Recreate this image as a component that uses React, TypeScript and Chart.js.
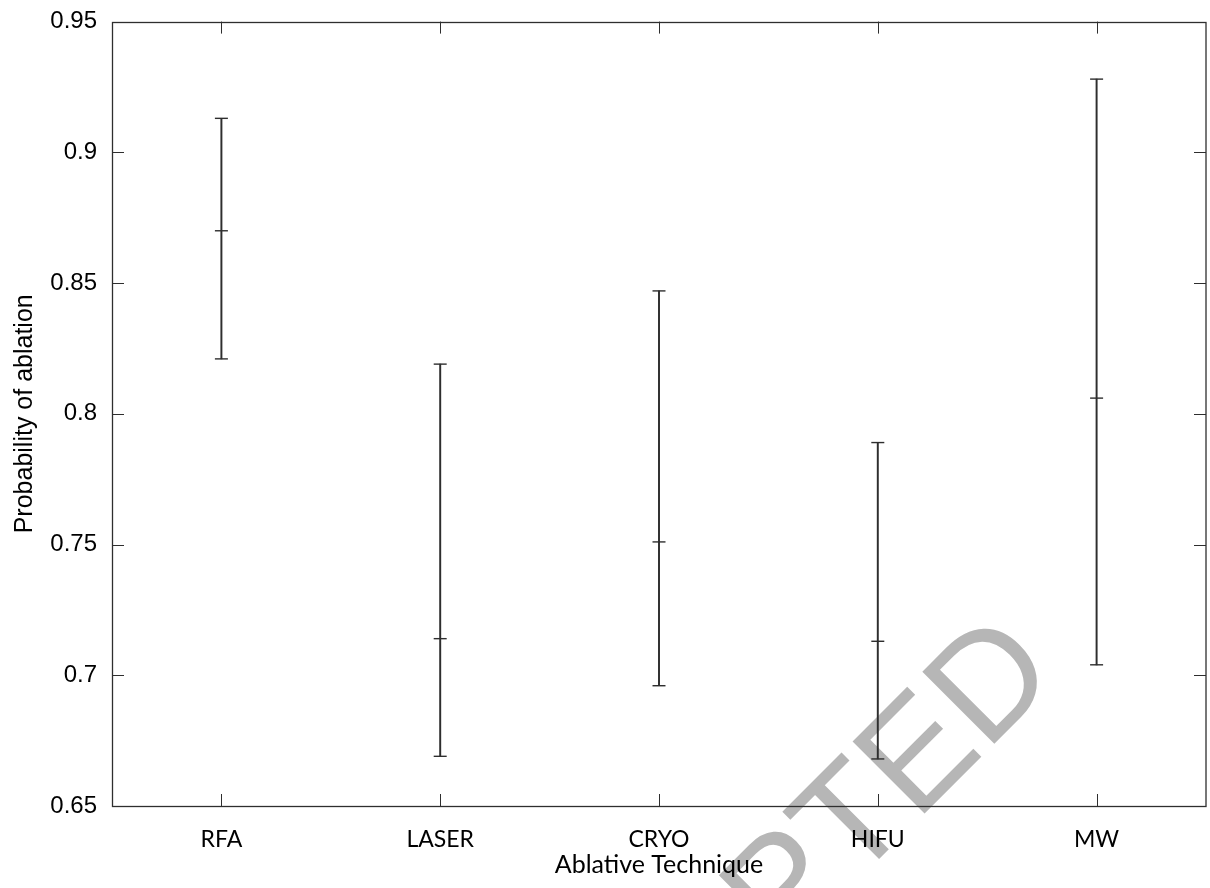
import React, { useEffect, useRef } from 'react';
import { Chart, registerables } from 'chart.js';

Chart.register(...registerables);

const categories = ['RFA', 'LASER', 'CRYO', 'HIFU', 'MW'];
const meanValues = [0.870, 0.714, 0.751, 0.713, 0.806];
const lowerValues = [0.821, 0.669, 0.696, 0.668, 0.704];
const upperValues = [0.913, 0.819, 0.847, 0.789, 0.928];
const yTickValues = [0.65, 0.7, 0.75, 0.8, 0.85, 0.9, 0.95];
const yTickLabels = ['0.65', '0.7', '0.75', '0.8', '0.85', '0.9', '0.95'];
const yMin = 0.65;
const yMax = 0.95;
const yStep = 0.05;
const xTitle = 'Ablative Technique';
const yTitle = 'Probability of ablation';
const watermarkText = 'ACCEPTED';

const LINE = '#2e2e2e';
const TEXT = '#000000';

const watermarkPlugin = {
  id: 'watermark',
  beforeDraw(chart: any) {
    const ctx = chart.ctx;
    ctx.save();
    ctx.font = '148px "Liberation Sans", Arial, sans-serif';
    ctx.fillStyle = 'rgb(182,182,182)';
    ctx.textBaseline = 'alphabetic';
    ctx.textAlign = 'left';
    ctx.translate(916, 822);
    ctx.rotate(-Math.PI / 4);
    const pre = ctx.measureText('ACCEPT').width;
    ctx.fillText(watermarkText, -pre, 0);
    ctx.restore();
  },
};

const frameTicksPlugin = {
  id: 'frameTicks',
  afterDraw(chart: any) {
    const { ctx, chartArea } = chart;
    const { left, right, top, bottom } = chartArea;
    const xs = chart.scales.x;
    const ys = chart.scales.y;
    const len = 12;
    ctx.save();
    ctx.strokeStyle = LINE;
    ctx.lineWidth = 1;
    ctx.beginPath();
    ys.ticks.forEach((t: any) => {
      const y = Math.round(ys.getPixelForValue(t.value)) + 0.5;
      ctx.moveTo(left, y);
      ctx.lineTo(left + len, y);
      ctx.moveTo(right, y);
      ctx.lineTo(right - len, y);
    });
    categories.forEach((_, i) => {
      const x = Math.round(xs.getPixelForTick(i)) + 0.5;
      ctx.moveTo(x, bottom);
      ctx.lineTo(x, bottom - len);
      ctx.moveTo(x, top);
      ctx.lineTo(x, top + len);
    });
    ctx.stroke();
    ctx.lineWidth = 1.3;
    ctx.strokeRect(Math.round(left) + 0.5, Math.round(top) + 0.5, Math.round(right - left) - 0.5, Math.round(bottom - top));
    ctx.restore();
  },
};

export default function App() {
  const ref = useRef<HTMLCanvasElement | null>(null);

  useEffect(() => {
    if (!ref.current) return;
    const capDataset = (values: number[]) => ({
      type: 'line' as const,
      data: values,
      showLine: false,
      pointStyle: 'line',
      pointRadius: 6.5,
      pointHoverRadius: 6.5,
      borderColor: LINE,
      backgroundColor: LINE,
      borderWidth: 1.4,
      clip: false,
    });
    const chart = new Chart(ref.current, {
      type: 'bar',
      data: {
        labels: categories,
        datasets: [
          {
            type: 'bar',
            data: categories.map((_, i) => [lowerValues[i], upperValues[i]]),
            backgroundColor: LINE,
            borderWidth: 0,
            barThickness: 1.3,
          } as any,
          capDataset(lowerValues) as any,
          capDataset(meanValues) as any,
          capDataset(upperValues) as any,
        ],
      },
      options: {
        animation: false,
        responsive: false,
        maintainAspectRatio: false,
        layout: { autoPadding: false, padding: { top: 0, right: 4, bottom: 0, left: 0 } },
        plugins: {
          legend: { display: false },
          tooltip: { enabled: false },
        },
        scales: {
          x: {
            type: 'category',
            offset: true,
            grid: { display: false, drawTicks: false },
            border: { display: false },
            ticks: {
              color: TEXT,
              padding: 0,
              maxRotation: 0,
              font: { family: 'Lato, "Open Sans", sans-serif', size: 23, lineHeight: '67.6px' },
            },
            title: {
              display: true,
              text: xTitle,
              color: TEXT,
              padding: { top: 0, bottom: 8 },
              font: { family: 'Lato, "Open Sans", sans-serif', size: 25 },
            },
            afterFit(scale: any) {
              scale.height = 82;
            },
          },
          y: {
            type: 'linear',
            min: yMin,
            max: yMax,
            grid: { display: false, drawTicks: false },
            border: { display: false },
            ticks: {
              stepSize: yStep,
              color: TEXT,
              padding: 15,
              font: { family: '"Liberation Sans", Arial, sans-serif', size: 24, lineHeight: 0.55 },
              callback: (v: number) => {
                const i = yTickValues.findIndex((t) => Math.abs(t - v) < 1e-6);
                return i >= 0 ? yTickLabels[i] : '';
              },
            },
            title: {
              display: true,
              text: yTitle,
              color: TEXT,
              padding: { top: 10, bottom: 0 },
              font: { family: '"Liberation Sans", Arial, sans-serif', size: 25 },
            },
            afterFit(scale: any) {
              scale.width = 112;
            },
          },
        },
      },
      plugins: [watermarkPlugin, frameTicksPlugin],
    } as any);
    return () => chart.destroy();
  }, []);

  return (
    <div style={{ position: 'fixed', left: 0, top: 0, width: 1210, height: 888, background: '#fff' }}>
      <canvas ref={ref} width={1210} height={888} style={{ width: 1210, height: 888, display: 'block' }} />
    </div>
  );
}
